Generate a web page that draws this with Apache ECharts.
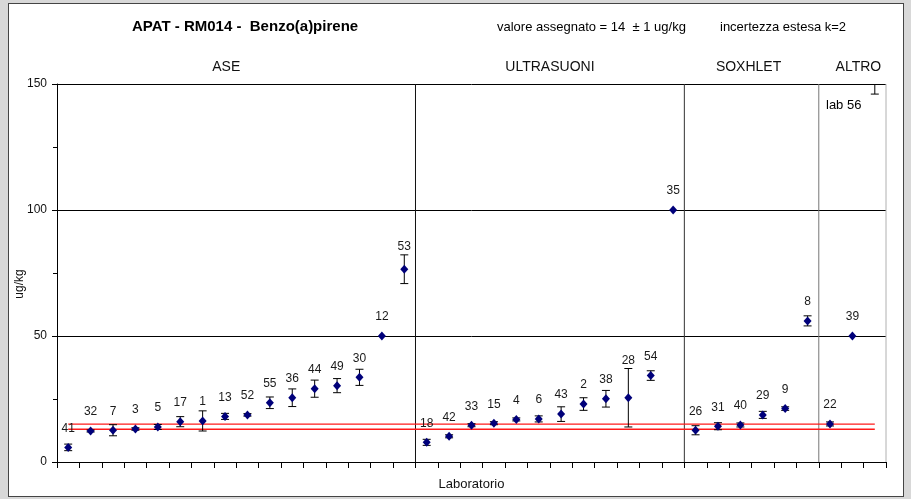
<!DOCTYPE html>
<html>
<head>
<meta charset="utf-8">
<script src="https://cdn.jsdelivr.net/npm/echarts@6/dist/echarts.min.js"></script>
<style>
  html, body { margin: 0; padding: 0; background: #d8d8d8; }
  #frame { position: absolute; left: 8px; top: 3px; width: 896px; height: 494px;
           background: #fff; border: 1px solid #444; box-sizing: border-box; }
  #chart { position: absolute; left: 0; top: 0; width: 911px; height: 499px; }
</style>
</head>
<body>
<div id="frame"></div>
<div id="chart"></div>
<script>
// Laboratory codes, in plotting order (grouped by extraction method)
const labs = ['41','32','7','3','5','17','1','13','52','55','36','44','49','30','12','53',
              '18','42','33','15','4','6','43','2','38','28','54','35',
              '26','31','40','29','9','8',
              '22','39','56'];
// Reported results (ug/kg)
const values = [5.8, 12.3, 12.6, 13.1, 13.9, 16.0, 16.3, 18.1, 18.7, 23.5, 25.5, 29.1, 30.3, 33.6, 50, 76.5,
                7.8, 10.2, 14.6, 15.4, 16.9, 17.1, 19.0, 23.0, 25.1, 25.5, 34.3, 100,
                12.6, 14.2, 14.7, 18.7, 21.2, 56.0,
                15.1, 50, 158];
// Expanded uncertainties (ug/kg)
const uncertainties = [1.3, 0.4, 2.2, 0.5, 1.0, 2.0, 4.0, 1.2, 0.5, 2.3, 3.5, 3.4, 2.8, 3.2, 0, 5.7,
                       1.2, 0.6, 0.6, 0.6, 0.6, 1.2, 2.9, 2.5, 3.3, 11.6, 1.9, 0,
                       1.8, 1.4, 0.8, 1.4, 0.7, 2.0,
                       0.8, 0, 12];
// Extraction method groups: [first index, end index)
const sectionNames  = ['ASE', 'ULTRASUONI', 'SOXHLET', 'ALTRO'];
const sectionStarts = [0, 16, 28, 34];
const sectionEnds   = [16, 28, 34, 37];
// Assigned value and its uncertainty
const assignedValue = 14;
const assignedUnc = 1;
const yMin = 0, yMax = 150, yStep = 50;

const FONT = '"Liberation Sans", Arial, sans-serif';
const dividerColors = ['#111', '#333', '#777', '#b0b0b0'];
const sectionTitleShift = [-10, 0, -3, 6];

const chart = echarts.init(document.getElementById('chart'), null, { renderer: 'canvas' });

function errorBarItem(params, api) {
  const i = params.dataIndex;
  const v = api.value(1);
  const e = api.value(2);
  const cs = params.coordSys;
  const top = cs.y, bottom = cs.y + cs.height;
  const c = api.coord([i, v]);
  const hi = api.coord([i, v + e])[1];
  const lo = api.coord([i, v - e])[1];
  const children = [];
  const capHalf = 4;
  const stroke = { stroke: '#000', lineWidth: 1 };
  if (e > 0) {
    const y1 = Math.max(top, Math.min(bottom, hi));
    const y2 = Math.max(top, Math.min(bottom, lo));
    children.push({ type: 'line', shape: { x1: c[0], y1: y1, x2: c[0], y2: y2 }, style: stroke });
    if (hi >= top) children.push({ type: 'line', shape: { x1: c[0] - capHalf, y1: hi, x2: c[0] + capHalf, y2: hi }, style: stroke });
    if (lo >= top) children.push({ type: 'line', shape: { x1: c[0] - capHalf, y1: lo, x2: c[0] + capHalf, y2: lo }, style: stroke });
  }
  if (c[1] >= top) {
    const ly = e > 0 ? Math.min(c[1] - 19, hi - 8) : c[1] - 19;
    children.push({ type: 'text', x: c[0], y: ly,
                    style: { text: labs[i], fill: '#1a1a1a', font: '12px ' + FONT,
                             align: 'center', verticalAlign: 'middle' } });
  }
  return { type: 'group', children: children };
}

function sectionItem(params, api) {
  const k = params.dataIndex;
  const cs = params.coordSys;
  const band = api.size([1, 0])[0];
  const xStart = api.coord([sectionStarts[k], 0])[0] - band / 2;
  const xEnd = api.coord([sectionEnds[k] - 1, 0])[0] + band / 2;
  return {
    type: 'group',
    children: [
      { type: 'line', shape: { x1: xEnd, y1: cs.y, x2: xEnd, y2: cs.y + cs.height },
        style: { stroke: dividerColors[k], lineWidth: 1 } },
      { type: 'text', x: (xStart + xEnd) / 2 + sectionTitleShift[k], y: cs.y - 17,
        style: { text: sectionNames[k], fill: '#111', font: '14px ' + FONT,
                 align: 'center', verticalAlign: 'middle' } }
    ]
  };
}

function refLineItem(params, api) {
  const level = params.dataIndex === 0 ? assignedValue + assignedUnc : assignedValue - assignedUnc;
  const a = api.coord([0, level]);
  const b = api.coord([labs.length - 1, level]);
  return { type: 'line', shape: { x1: a[0], y1: a[1], x2: b[0], y2: b[1] },
           style: { stroke: '#ff1a1a', lineWidth: 1.3 } };
}

const option = {
  animation: false,
  backgroundColor: 'transparent',
  textStyle: { fontFamily: FONT },
  grid: { left: 57, right: 25, top: 84, bottom: 37, outerBoundsMode: 'none', containLabel: false },
  graphic: [
    { type: 'text', x: 132, y: 27,
      style: { text: 'APAT - RM014 -  Benzo(a)pirene', font: 'bold 15px ' + FONT, fill: '#000',
               verticalAlign: 'middle' } },
    { type: 'text', x: 497, y: 27,
      style: { text: 'valore assegnato = ' + assignedValue + '  \u00b1 ' + assignedUnc + ' ug/kg',
               font: '13px ' + FONT, fill: '#000', verticalAlign: 'middle' } },
    { type: 'text', x: 720, y: 27,
      style: { text: 'incertezza estesa k=2', font: '13px ' + FONT, fill: '#000', verticalAlign: 'middle' } },
    { type: 'text', x: 826, y: 105,
      style: { text: 'lab 56', font: '13px ' + FONT, fill: '#000', verticalAlign: 'middle' } },
    // y-axis unit, written vertically
    { type: 'text', x: 20, y: 284, rotation: Math.PI / 2,
      style: { text: 'ug/kg', font: '12px ' + FONT, fill: '#111', align: 'center', verticalAlign: 'middle' } }
  ],
  xAxis: {
    type: 'category',
    data: labs,
    boundaryGap: true,
    name: 'Laboratorio',
    nameLocation: 'middle',
    nameGap: 16,
    nameTextStyle: { fontSize: 13, color: '#111' },
    axisLine: { lineStyle: { color: '#000', width: 1 } },
    axisTick: { show: true, interval: 0, length: 6, lineStyle: { color: '#000' } },
    axisLabel: { show: false },
    splitLine: { show: false }
  },
  yAxis: {
    type: 'value',
    min: yMin, max: yMax, interval: yStep,
    axisLine: { show: true, lineStyle: { color: '#000', width: 1 } },
    axisTick: { show: true, length: 5, lineStyle: { color: '#000' } },
    minorTick: { show: true, splitNumber: 2, length: 4, lineStyle: { color: '#000' } },
    axisLabel: { fontSize: 12, color: '#111', margin: 10 },
    splitLine: { show: true, lineStyle: { color: '#000', width: 1 } }
  },
  series: [
    {
      type: 'custom',
      name: 'sezioni',
      silent: true,
      clip: false,
      renderItem: sectionItem,
      data: sectionEnds.map(function (e) { return [e, 0]; }),
      z: 1
    },
    {
      type: 'custom',
      name: 'valore assegnato',
      silent: true,
      renderItem: refLineItem,
      data: [[0, assignedValue + assignedUnc], [0, assignedValue - assignedUnc]],
      z: 2
    },
    {
      type: 'custom',
      name: 'incertezza',
      silent: true,
      clip: false,
      renderItem: errorBarItem,
      encode: { x: 0, y: 1 },
      data: values.map(function (v, i) { return [i, v, uncertainties[i]]; }),
      z: 3
    },
    {
      type: 'scatter',
      name: 'risultati',
      symbol: 'diamond',
      symbolSize: [8, 9],
      clip: true,
      itemStyle: { color: '#00007a', opacity: 1 },
      data: values.map(function (v, i) { return [i, v]; }),
      z: 4
    }
  ]
};

chart.setOption(option);
</script>
</body>
</html>
